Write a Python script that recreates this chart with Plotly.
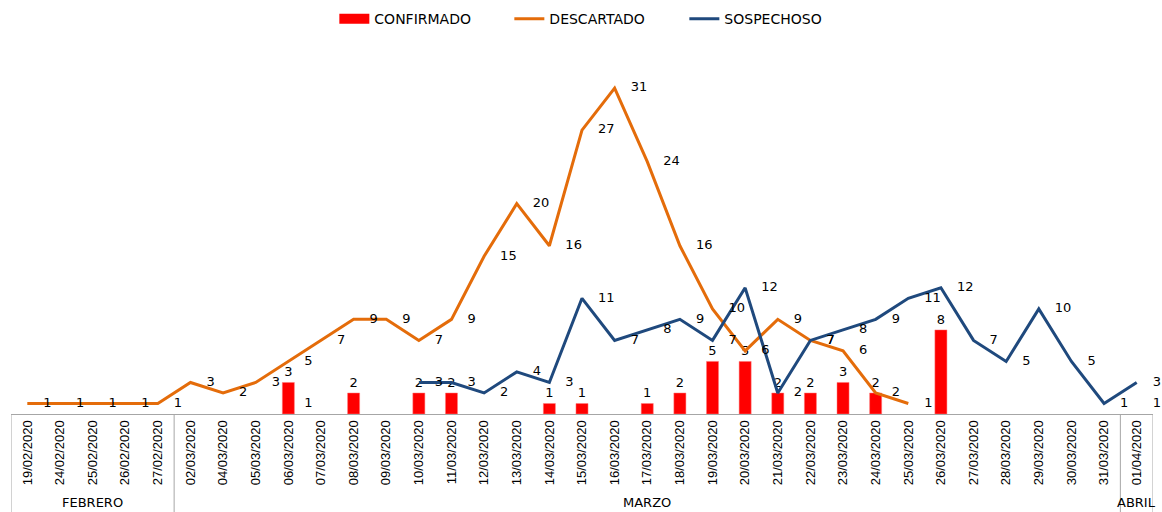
import plotly.graph_objects as go

dates = ["19/02/2020", "24/02/2020", "25/02/2020", "26/02/2020", "27/02/2020",
         "02/03/2020", "04/03/2020", "05/03/2020", "06/03/2020", "07/03/2020",
         "08/03/2020", "09/03/2020", "10/03/2020", "11/03/2020", "12/03/2020",
         "13/03/2020", "14/03/2020", "15/03/2020", "16/03/2020", "17/03/2020",
         "18/03/2020", "19/03/2020", "20/03/2020", "21/03/2020", "22/03/2020",
         "23/03/2020", "24/03/2020", "25/03/2020", "26/03/2020", "27/03/2020",
         "28/03/2020", "29/03/2020", "30/03/2020", "31/03/2020", "01/04/2020"]

groups = ["FEBRERO", "MARZO", "ABRIL"]
group_sizes = [5, 29, 1]

N = None
confirmado = [N, N, N, N, N, N, N, N, 3, N, 2, N, 2, 2, N, N, 1, 1, N, 1,
              2, 5, 5, 2, 2, 3, 2, N, 8, N, N, N, N, N, N]
descartado = [1, 1, 1, 1, 1, 3, 2, 3, 5, 7, 9, 9, 7, 9, 15, 20, 16, 27, 31, 24,
              16, 10, 6, 9, 7, 6, 2, 1, N, N, N, N, N, N, 1]
sospechoso = [N, N, N, N, N, N, N, N, 1, N, N, N, 3, 3, 2, 4, 3, 11, 7, 8,
              9, 7, 12, 2, 7, 8, 9, 11, 12, 7, 5, 10, 5, 1, 3]

RED = "#FF0000"
ORANGE = "#E46C0A"
BLUE = "#1F497D"
LABEL_FONT = dict(family="DejaVu Sans", size=13, color="#000000")


def lbl(vals):
    return ["" if v is None else str(v) for v in vals]


fig = go.Figure()
# bars (legend entry drawn by a legend-only line trace to get a wide swatch)
fig.add_trace(go.Bar(
    x=dates, y=confirmado, name="CONFIRMADO", showlegend=False,
    marker=dict(color=RED, line=dict(color="#FF8080", width=0.5)),
    width=0.37,
    text=lbl(confirmado), textposition="outside", textfont=LABEL_FONT,
    constraintext="none", cliponaxis=False, hoverinfo="skip",
))
fig.add_trace(go.Scatter(
    x=[dates[0]], y=[None], name="CONFIRMADO", mode="lines",
    line=dict(color=RED, width=10), showlegend=True, hoverinfo="skip",
))
fig.add_trace(go.Scatter(
    x=dates, y=descartado, name="DESCARTADO", mode="lines",
    line=dict(color=ORANGE, width=3), hoverinfo="skip",
))
fig.add_trace(go.Scatter(
    x=dates, y=sospechoso, name="SOSPECHOSO", mode="lines",
    line=dict(color=BLUE, width=3), hoverinfo="skip",
))
# data labels for the lines, offset to the right of each point
for vals in (descartado, sospechoso):
    fig.add_trace(go.Scatter(
        x=dates, y=vals, mode="markers+text", showlegend=False,
        marker=dict(size=24, opacity=0),
        text=lbl(vals), textposition="middle right", textfont=LABEL_FONT,
        cliponaxis=False, hoverinfo="skip",
    ))

# group boxes and labels
shapes = []
annotations = []
start = 0
bounds = [-0.5]
for g, n in zip(groups, group_sizes):
    center = start + (n - 1) / 2
    annotations.append(dict(
        x=center, y=-0.256, xref="x", yref="paper", text=g, showarrow=False,
        font=dict(family="DejaVu Sans", size=13, color="#000000"),
        yanchor="middle",
    ))
    start += n
    bounds.append(start - 0.5)
for b in bounds:
    shapes.append(dict(type="line", xref="x", yref="paper", x0=b, x1=b,
                       y0=0, y1=-0.3, line=dict(color="#A6A6A6", width=1)))

fig.update_layout(
    width=1162, height=512,
    margin=dict(l=11, r=9, t=67, b=98, autoexpand=False),
    plot_bgcolor="white", paper_bgcolor="white",
    barmode="overlay",
    showlegend=True,
    legend=dict(orientation="h", x=0.513, xanchor="center", y=1.184, yref="paper",
                yanchor="top", entrywidth=130,
                font=dict(family="DejaVu Sans", size=14, color="#000000"),
                traceorder="normal"),
    xaxis=dict(type="category", tickangle=-90, showline=True, linecolor="#A6A6A6",
               linewidth=1, showgrid=False, ticks="", automargin=False,
               range=[-0.5, len(dates) - 0.5],
               tickfont=dict(family="Liberation Sans Narrow, Liberation Sans", size=13,
                             color="#000000")),
    yaxis=dict(range=[0, 33], showticklabels=False, showgrid=False, zeroline=False,
               showline=False, ticks="", automargin=False),
    shapes=shapes, annotations=annotations,
)

# remove the default page margin so the figure fills the window exactly
fig.write_html(
    "out.html",
    config={"displayModeBar": False},
    post_script="document.body.style.margin='0';document.body.style.overflow='hidden';",
)
